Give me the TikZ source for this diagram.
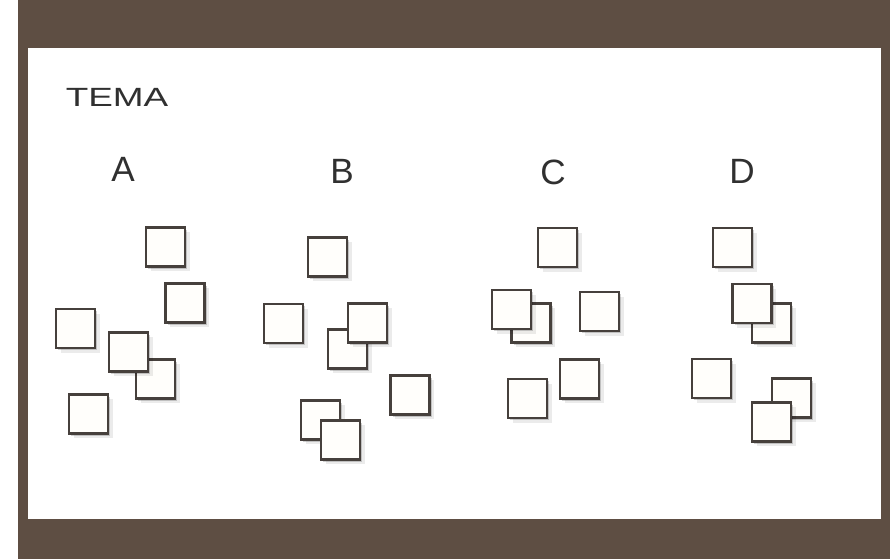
\documentclass[tikz,border=0pt]{standalone}
\usepackage{fontspec}
\setsansfont{Liberation Sans}
\usepackage{xcolor}
\usepackage{tikz}
\usetikzlibrary{shadows}

\definecolor{framebrown}{RGB}{94,78,67}
\definecolor{cardedge}{RGB}{70,64,60}
\definecolor{cardfill}{RGB}{255,254,251}
\definecolor{inkgray}{RGB}{48,48,48}

\begin{document}
\begin{tikzpicture}[x=0.02cm,y=-0.02cm,
  card/.style={draw=cardedge,fill=cardfill,line width=1.2pt,minimum size=0.78cm,inner sep=0pt,
    drop shadow={shadow xshift=2.8pt,shadow yshift=-2.8pt,opacity=0.08,fill=black},
    drop shadow={shadow xshift=1.4pt,shadow yshift=-1.4pt,opacity=0.18,fill=black}},
  hand/.style={text=inkgray,font=\sffamily\fontsize{20}{20}\selectfont}]
  \useasboundingbox (0,0) rectangle (890,559);
  % board with brown frame
  \fill[white] (0,0) rectangle (890,559);
  \fill[framebrown] (18,0) rectangle (890,559);
  \fill[white] (28,48) rectangle (881,519);

  \node[text=inkgray,font=\sffamily\fontsize{15}{15}\selectfont,xscale=1.4] (tema) at (117,97) {TEMA};
  \node[hand] (labA) at (123,169) {A};
  \node[hand] (labB) at (342,171) {B};
  \node[hand] (labC) at (553,172) {C};
  \node[hand] (labD) at (742,171) {D};

  % group A
  \node[card] (a1) at (165.5,247) {};
  \node[card] (a2) at (185,303) {};
  \node[card] (a3) at (75.5,328.5) {};
  \node[card] (a4) at (155.5,379) {};
  \node[card] (a5) at (128.5,352) {};
  \node[card] (a6) at (88.5,414) {};

  % group B
  \node[card] (b1) at (327.5,257) {};
  \node[card] (b2) at (283.5,323.5) {};
  \node[card] (b4) at (347.5,349) {};
  \node[card] (b3) at (367.5,323) {};
  \node[card] (b5) at (410,395) {};
  \node[card] (b6) at (320.5,420) {};
  \node[card] (b7) at (340.5,440) {};

  % group C
  \node[card] (c1) at (557.5,247.5) {};
  \node[card] (c2) at (531,323) {};
  \node[card] (c3) at (511.5,309.5) {};
  \node[card] (c4) at (599.5,311.5) {};
  \node[card] (c5) at (579.5,379) {};
  \node[card] (c6) at (527.5,398.5) {};

  % group D
  \node[card] (d1) at (732.5,247.5) {};
  \node[card] (d2) at (771.5,323) {};
  \node[card] (d3) at (752,303.5) {};
  \node[card] (d4) at (711.5,378.5) {};
  \node[card] (d5) at (791.5,398) {};
  \node[card] (d6) at (771.5,422) {};
\end{tikzpicture}
\end{document}
